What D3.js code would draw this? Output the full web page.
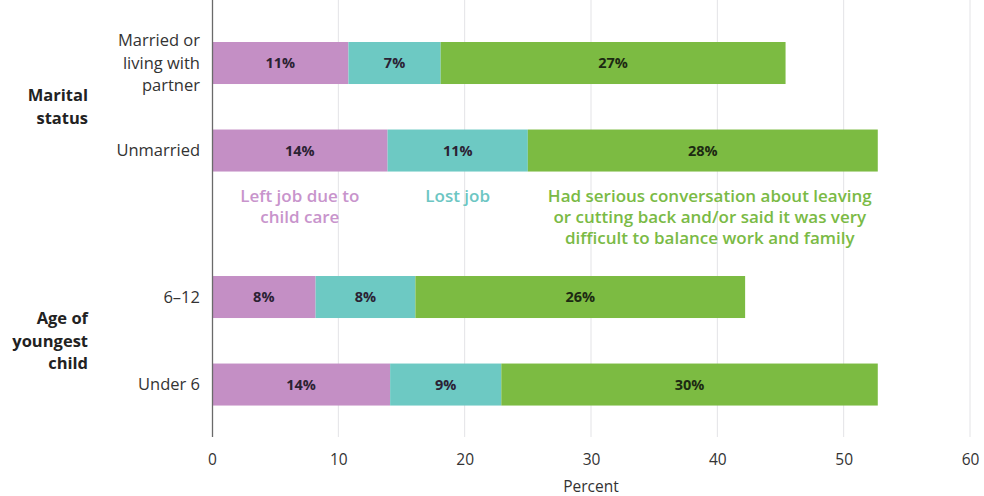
<!DOCTYPE html>
<html>
<head>
<meta charset="utf-8">
<script src="https://cdn.jsdelivr.net/npm/d3@7"></script>
<style>
  body { margin:0; background:#fff; }
  svg { font-family:"Open Sans", sans-serif; }
</style>
</head>
<body>
<svg id="chart"></svg>
<script>
// groups and rows (top to bottom)
var groups = ["Marital status", "Age of youngest child"];
var groupLabels = [["Marital", "status"], ["Age of", "youngest", "child"]];
var rows = [
  ["Married or living with partner", "Unmarried"],
  ["6–12", "Under 6"]
];
var rowLabels = {
  "Married or living with partner": ["Married or", "living with", "partner"],
  "Unmarried": ["Unmarried"],
  "6–12": ["6–12"],
  "Under 6": ["Under 6"]
};
// segment values (percent)
var leftJob   = [10.8, 13.9, 8.2, 14.1];
var lostJob   = [7.3, 11.1, 7.9, 8.8];
var hadTalk   = [27.3, 27.7, 26.1, 29.8];
// printed labels
var leftJobLabel = ["11%", "14%", "8%", "14%"];
var lostJobLabel = ["7%", "11%", "8%", "9%"];
var hadTalkLabel = ["27%", "28%", "26%", "30%"];

var xTicks = [0, 10, 20, 30, 40, 50, 60];

var seriesNames = [
  ["Left job due to", "child care"],
  ["Lost job"],
  ["Had serious conversation about leaving", "or cutting back and/or said it was very", "difficult to balance work and family"]
];
var colors = ["#c48fc5", "#6dc9c3", "#7cbb42"];
var legendColors = ["#c894cc", "#6cc6c3", "#7aba45"];

var screen = {width:984, height:496};
var margins = {left:212, right:14, top:0, bottom:59};
var graph = {
  width: screen.width - margins.left - margins.right,
  height: screen.height - margins.top - margins.bottom
};

var svg = d3.select("#chart")
  .attr("width", screen.width)
  .attr("height", screen.height);

var xScale = d3.scaleLinear().domain([0, 60]).range([0, 758]);

var groupScale = d3.scaleBand()
  .domain(groups)
  .range([19.25, 428.3])
  .paddingInner(0.252);

var rowScale = d3.scaleBand()
  .domain([0, 1])
  .range([0, groupScale.bandwidth()])
  .paddingInner(0.52)
  .paddingOuter(0.26);

// flatten rows
var data = [];
rows.forEach(function(r, gi) {
  r.forEach(function(name, ri) {
    var i = data.length;
    data.push({
      name: name, group: groups[gi], idx: ri,
      values: [leftJob[i], lostJob[i], hadTalk[i]],
      labels: [leftJobLabel[i], lostJobLabel[i], hadTalkLabel[i]]
    });
  });
});
var yOf = function(d) { return groupScale(d.group) + rowScale(d.idx); };

var target = svg.append("g")
  .attr("transform", "translate(" + margins.left + "," + margins.top + ")");

// grid lines
target.append("g").selectAll("line")
  .data(xTicks.slice(1))
  .enter().append("line")
  .attr("x1", function(d){ return xScale(d); })
  .attr("x2", function(d){ return xScale(d); })
  .attr("y1", 0)
  .attr("y2", graph.height)
  .attr("stroke", "#e3e3e6")
  .attr("stroke-width", 1);

// bars
var rowsG = target.selectAll("g.row")
  .data(data)
  .enter().append("g")
  .attr("class", "row")
  .attr("transform", function(d){ return "translate(0," + yOf(d) + ")"; });

rowsG.each(function(d) {
  var g = d3.select(this);
  var start = 0;
  var segs = d.values.map(function(v, k) {
    var s = {x0: start, x1: start + v, label: d.labels[k], k: k};
    start += v;
    return s;
  });
  g.selectAll("rect").data(segs).enter().append("rect")
    .attr("x", function(s){ return xScale(s.x0); })
    .attr("width", function(s){ return xScale(s.x1) - xScale(s.x0); })
    .attr("y", 0)
    .attr("height", rowScale.bandwidth())
    .attr("fill", function(s){ return colors[s.k]; });
  g.selectAll("text").data(segs).enter().append("text")
    .text(function(s){ return s.label; })
    .attr("x", function(s){ return (xScale(s.x0) + xScale(s.x1)) / 2; })
    .attr("y", rowScale.bandwidth() / 2)
    .attr("dy", "0.35em")
    .attr("text-anchor", "middle")
    .attr("font-size", 14.5)
    .attr("font-weight", 700)
    .attr("fill", function(s){ return s.k == 2 ? "#1c2a12" : "#2b2233"; });
});

// axis line
target.append("line")
  .attr("x1", 0.5).attr("x2", 0.5)
  .attr("y1", 0).attr("y2", graph.height)
  .attr("stroke", "#6a6a6a")
  .attr("stroke-width", 1.3);

// x axis tick labels
var xAxis = d3.axisBottom(xScale).tickValues(xTicks).tickSize(0).tickPadding(17);
var axisG = target.append("g")
  .attr("transform", "translate(0," + graph.height + ")")
  .call(xAxis);
axisG.select(".domain").remove();
axisG.selectAll("text")
  .attr("font-family", "Open Sans, sans-serif")
  .attr("font-size", 15.5)
  .attr("fill", "#333");

target.append("text")
  .text("Percent")
  .attr("x", xScale(30))
  .attr("y", graph.height + 55)
  .attr("text-anchor", "middle")
  .attr("font-size", 15.5)
  .attr("fill", "#333");

// row labels
rowsG.each(function(d) {
  var lines = rowLabels[d.name];
  var t = d3.select(this).append("text")
    .attr("text-anchor", "end")
    .attr("font-size", 16.5)
    .attr("fill", "#333");
  lines.forEach(function(l, i) {
    t.append("tspan")
      .attr("x", -12)
      .attr("y", rowScale.bandwidth() / 2 + (i - (lines.length - 1) / 2) * 22.5)
      .attr("dy", "0.35em")
      .text(l);
  });
});

// group labels
groups.forEach(function(gname, gi) {
  var lines = groupLabels[gi];
  var cy = groupScale(gname) + (rowScale(0) + rowScale(1) + rowScale.bandwidth()) / 2;
  var t = target.append("text")
    .attr("text-anchor", "end")
    .attr("font-size", 16.5)
    .attr("font-weight", 700)
    .attr("fill", "#222");
  lines.forEach(function(l, i) {
    t.append("tspan")
      .attr("x", 88 - margins.left)
      .attr("y", cy + (i - (lines.length - 1) / 2) * 22.5)
      .attr("dy", "0.35em")
      .text(l);
  });
});

// series legend under Unmarried bar
var ref = data[1];
var legendX = [];
var acc = 0;
ref.values.forEach(function(v) { legendX.push(xScale(acc + v / 2)); acc += v; });
legendX[2] += 7;
var legendTop = yOf(ref) + rowScale.bandwidth() + 25;
seriesNames.forEach(function(lines, k) {
  var t = target.append("text")
    .attr("text-anchor", "middle")
    .attr("font-size", 17)
    .attr("font-weight", 600)
    .attr("fill", legendColors[k]);
  lines.forEach(function(l, i) {
    t.append("tspan")
      .attr("x", legendX[k])
      .attr("y", legendTop + i * 21)
      .attr("dy", "0.35em")
      .text(l);
  });
});
</script>
</body>
</html>
